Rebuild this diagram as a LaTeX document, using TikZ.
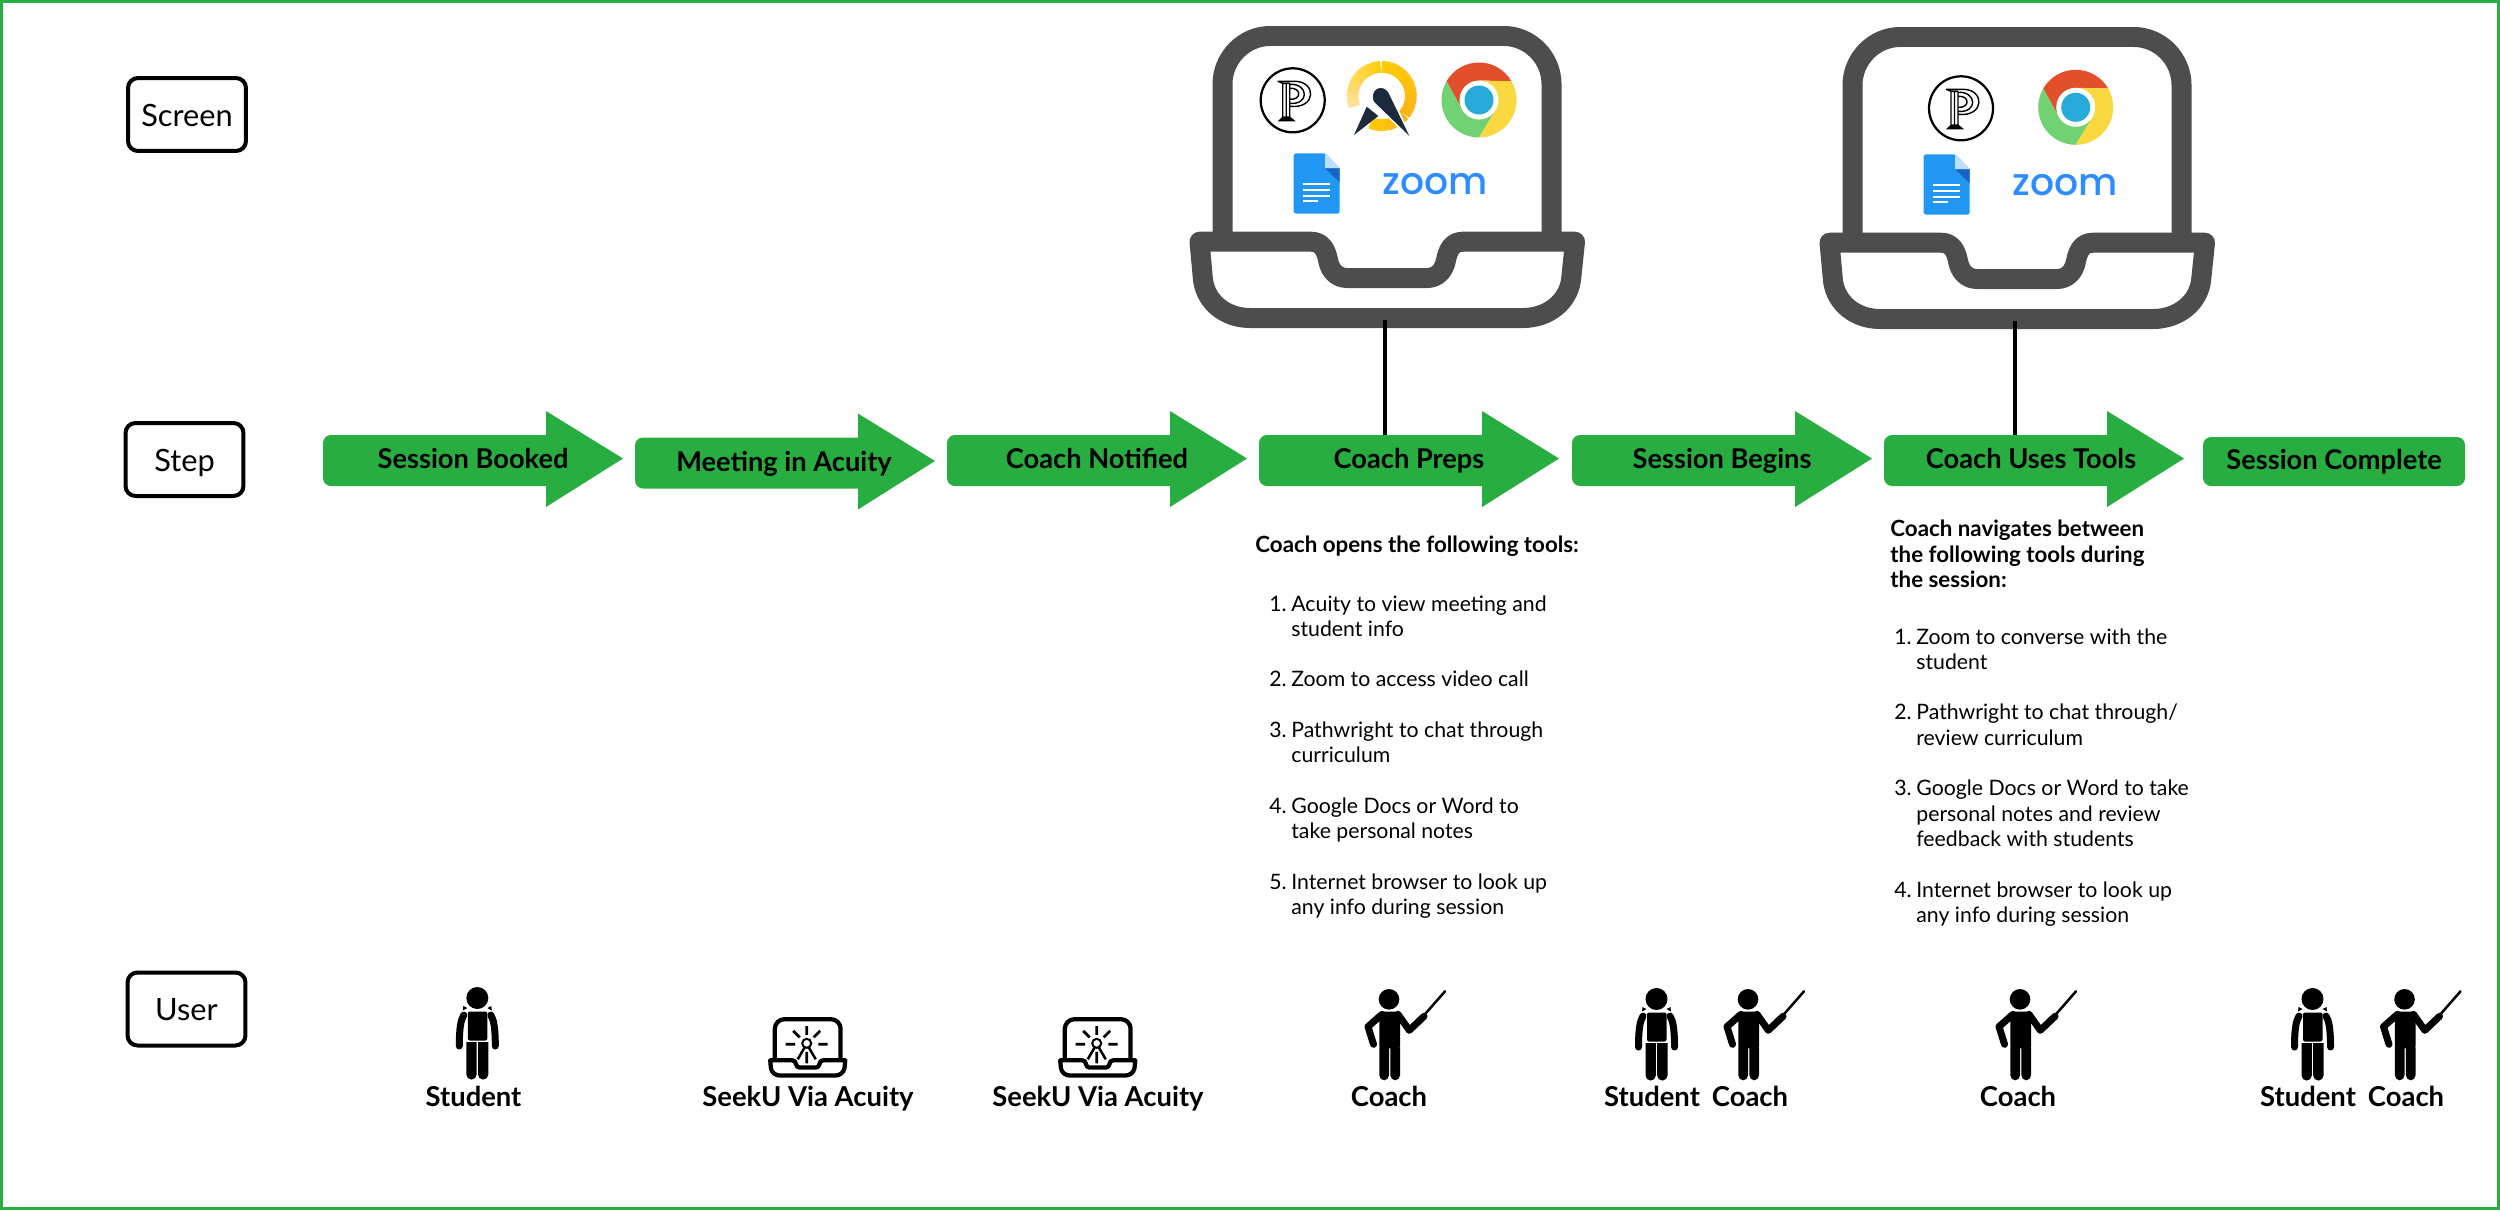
\documentclass[tikz,border=0pt]{standalone}
\usepackage{fontspec}
\setmainfont{Lato}
\newfontfamily\zoomfont{Poppins Medium}
\usetikzlibrary{positioning,calc}
\definecolor{stepgreen}{HTML}{28AE40}
\definecolor{lapgray}{HTML}{4D4D4D}
\definecolor{zoomblue}{HTML}{2D8CFF}
\definecolor{docblue}{HTML}{2196F3}
\definecolor{docfold}{HTML}{BBDEFB}
\definecolor{docdark}{HTML}{1565C0}
\definecolor{chromered}{HTML}{E24F2B}
\definecolor{chromeyel}{HTML}{F9D93F}
\definecolor{chromegrn}{HTML}{71D274}
\definecolor{chromeblu}{HTML}{25AAD9}
\definecolor{acuitydark}{HTML}{1B2A3D}
\definecolor{acuitypale}{HTML}{FDE29A}
\definecolor{acuitygold}{HTML}{FFCC00}
\definecolor{acuityamber}{HTML}{FDB21A}
\newcommand{\toolnum}[1]{\makebox[0.44cm][l]{#1}}
\tikzset{
  rowlabel/.style={draw, rounded corners=0.2cm, line width=0.08cm, minimum width=2.36cm,
                   minimum height=1.46cm, inner sep=0pt, text height=13.6pt, text depth=0pt,
                   font=\fontsize{17.5}{20}\selectfont},
  steptext/.style={anchor=base, inner sep=0pt, font=\fontsize{15.5}{18}\selectfont\bfseries},
  whotext/.style={anchor=base, inner sep=0pt, font=\fontsize{15.6}{18}\selectfont\bfseries},
  finalstep/.style={fill=stepgreen, rounded corners=0.16cm, minimum width=5.24cm,
                    minimum height=0.98cm, inner sep=0pt, text height=9.6pt, text depth=0pt,
                    font=\fontsize{15.5}{18}\selectfont\bfseries},
  toolhead/.style={anchor=north west, inner sep=0pt, align=left,
                   font=\fontsize{12.7}{14.5}\selectfont\bfseries},
  toollist/.style={anchor=north west, inner sep=0pt, align=left,
                   font=\fontsize{12.1}{14.4}\selectfont},
  zoomtext/.style={anchor=base, inner sep=0pt, text=zoomblue, font=\zoomfont\fontsize{21.5}{26}\selectfont},
  link/.style={line width=0.07cm},
  limb/.style={line width=0.14cm, line cap=round, line join=round},
  steparrow/.pic={
    \fill[stepgreen, rounded corners=0.16cm] (100,-25.5) -- (0,-25.5) -- (0,25.5) -- (100,25.5)
      [sharp corners] -- (223,25.5) -- (223,46.5) -- (300,-2) -- (223,-49.5) -- (223,-25.5) -- cycle;
    \coordinate (-top) at (126,-25.5);
  },
  lapframe/.pic={
    \draw[#1] (72.5,242) -- (72.5,84) .. controls (72.5,58) and (94,36) .. (120,36)
      -- (354,36) .. controls (380,36) and (401.5,58) .. (401.5,84) -- (401.5,242);
    \draw[#1, line join=round] (49.5,241.7) -- (161,241.7)
      .. controls (172,241.7) and (176,250) .. (178,260) .. controls (180,271) and (187,278) .. (197,278)
      -- (277,278) .. controls (287,278) and (294,271) .. (296,260) .. controls (298,250) and (302,241.7) .. (313,241.7)
      -- (425,241.7) -- (421,280) .. controls (418,302) and (398,318) .. (373,318)
      -- (100,318) .. controls (75,318) and (56,302) .. (53,280) -- cycle;
    \coordinate (-base) at (235,320);
  },
  pathicon/.pic={
    \draw[line width=0.045cm] (0,0) circle[radius=32];
    \draw[line width=0.028cm, line join=round] (-10,-17) -- (-10,18) (-3,-17) -- (-3,18) (-6.5,-17) -- (-6.5,18)
      (-15,-19) -- (-10,-17) -- (-3,-17) (-15,-19) -- (2,-19)
      (2,-19) .. controls (24,-19) and (24,9) .. (-3,6)
      (-3,-16) .. controls (16,-17) and (17,5) .. (-3,3)
      (-3,-12) .. controls (9,-13) and (9,0) .. (-3,-1);
    \fill (-15,21) -- (-10,16) -- (-3,16) -- (3,21) -- cycle;
  },
  acuityicon/.pic={
    \foreach \ang [evaluate=\ang as \pct using (\ang-159)/1.11] in {159,168,...,261}
      \draw[acuitygold!\pct!acuitypale, line width=0.235cm] (\ang:29.2) arc[start angle=\ang, end angle=\ang+10, radius=29.2];
    \foreach \ang [evaluate=\ang as \pct using (\ang-270)/1.3] in {270,278,...,392}
      \draw[acuityamber!\pct!acuitygold, line width=0.235cm] (\ang:29.2) arc[start angle=\ang, end angle=\ang+9, radius=29.2];
    \foreach \ang [evaluate=\ang as \pct using (\ang-400)/0.71] in {400,408,...,464}
      \draw[acuitygold!\pct!acuityamber, line width=0.235cm] (\ang:29.2) arc[start angle=\ang, end angle=\ang+9, radius=29.2];
    \fill[acuitydark] (-27.7,39) -- (-15,10.7) -- (-3.4,20) -- cycle;
    \fill[acuitydark, draw=white, line width=0.03cm] (30.6,44) -- (7.3,-4) .. controls (2.3,-12) and (-9.7,-10) .. (-9.7,1)
      .. controls (-9.7,4) and (-8.7,6) .. (-7.7,7) -- cycle;
  },
  chromeicon/.pic={
    \fill[chromered] (-150:37.5) arc[start angle=-150, end angle=-30, radius=37.5] -- (0,-19.5) -- (0,0) -- (-16.9,9.75) -- cycle;
    \fill[chromegrn] (-150:37.5) arc[start angle=210, end angle=90, radius=37.5] -- (16.9,9.75) -- (0,0) -- (-16.9,9.75) -- cycle;
    \fill[chromeyel] (-30:37.5) arc[start angle=-30, end angle=90, radius=37.5] -- (16.9,9.75) -- (0,0) -- (0,-19.5) -- cycle;
    \fill[white] (0,0) circle[radius=19.5];
    \fill[chromeblu] (0,0) circle[radius=14.5];
  },
  docsicon/.pic={
    \fill[docblue, rounded corners=0.05cm] (0,0) -- (31.5,0) [sharp corners] -- (46,15) [rounded corners=0.05cm] -- (46,60.4) -- (0,60.4) -- cycle;
    \fill[docfold] (31.5,0) -- (46,15) -- (31.5,15) -- cycle;
    \fill[docdark] (31.5,15) -- (46,15) -- (46,29) -- cycle;
    \draw[white, line width=0.04cm] (9.7,30.7) -- (36.3,30.7) (9.7,36.7) -- (36.3,36.7) (9.7,42.3) -- (36.3,42.3) (9.7,47.7) -- (24.7,47.7);
  },
  studentfig/.pic={
    \fill (0,0) circle[radius=11];
    \fill (-10,10) -- (-14,8) -- (-14.5,12.5) -- cycle;
    \fill (10,10) -- (14,8) -- (14.5,12.5) -- cycle;
    \fill[rounded corners=0.04cm] (-9.5,13.5) -- (10,13.5) -- (10,42.5) -- (-9.5,42.5) -- cycle;
    \fill (-11,44) -- (-0.7,44) [rounded corners=0.1cm] -- (-0.7,81.5) -- (-11,81.5) [sharp corners] -- cycle;
    \fill (0.7,44) -- (11,44) [rounded corners=0.1cm] -- (11,81.5) -- (0.7,81.5) [sharp corners] -- cycle;
    \draw[limb] (-13.5,17) .. controls (-16.5,22) and (-18,30) .. (-18,48);
    \draw[limb] (13.5,17) .. controls (16.5,22) and (18,30) .. (18,48);
  },
  coachfig/.pic={
    \fill (0,0) circle[radius=10.3];
    \fill[rounded corners=0.04cm] (-9.7,12.3) -- (11,12.3) -- (11,49) -- (-9.7,49) -- cycle;
    \fill (-9.7,48) -- (0,48) [rounded corners=0.1cm] -- (0,81) -- (-9.7,81) [sharp corners] -- cycle;
    \fill (1.4,48) -- (11,48) [rounded corners=0.1cm] -- (11,81) -- (1.4,81) [sharp corners] -- cycle;
    \draw[limb] (9,15) -- (20.3,31) -- (35,17);
    \draw[limb] (-7,15) -- (-21,27.3) -- (-15.5,45);
    \draw[line width=0.05cm, line cap=round] (35,16) -- (56,-8);
  },
  seekuicon/.pic={
    \pic[scale=0.2] at (-46.4,-32.3) {lapframe={line width=0.085cm}};
    \draw[line width=0.055cm] (0,-18.3) -- (0,-9.5) (11.7,0) -- (21,0) (-21,0) -- (-11.7,0) (0,7.5) -- (0,19)
      (7,-7) -- (13.5,-13.5) (-7,-7) -- (-13.5,-13.5);
    \draw[line width=0.04cm] (0,-1) circle[radius=4.5];
    \draw[line width=0.05cm] (-2,3) -- (-9,15) (2,3) -- (9,15);
  }
}
\begin{document}
\begin{tikzpicture}[x=0.02cm, y=-0.02cm]
\useasboundingbox (0,0) rectangle (2500,1210);
\draw[stepgreen, line width=0.07cm] (1.75,1.75) rectangle (2498.25,1208.25);
% row labels
\node[rowlabel] (screenlabel) at (187,114.5) {Screen};
\node[rowlabel] (steplabel) at (184.5,459.5) {Step};
\node[rowlabel] (userlabel) at (186.5,1009) {User};
% laptops
\pic (lapa) at (1150,0) {lapframe={lapgray, line width=0.4cm}};
\pic (lapb) at (1780,1) {lapframe={lapgray, line width=0.4cm}};
\pic (patha) at (1292.7,100.3) {pathicon};
\pic (acuitya) at (1381.7,96) {acuityicon};
\pic (chromea) at (1479,100) {chromeicon};
\pic (docsa) at (1293.7,153.3) {docsicon};
\node[zoomtext] (zooma) at (1435.5,194) {zoom};
\pic (pathb) at (1961,108.3) {pathicon};
\pic (chromeb) at (2075.7,107.3) {chromeicon};
\pic (docsb) at (1923.7,154.3) {docsicon};
\node[zoomtext] (zoomb) at (2065.5,195) {zoom};
% step arrows
\pic (booked) at (323,460.5) {steparrow};
\pic (meeting) at (635,463) {steparrow};
\pic (notified) at (947,460.5) {steparrow};
\pic (preps) at (1259,460.5) {steparrow};
\pic (begins) at (1572,460.5) {steparrow};
\pic (tools) at (1884,460.5) {steparrow};
\node[finalstep] (complete) at (2334,461.5) {Session Complete};
\node[steptext] (bookedtext) at (473,468) {Session Booked};
\node[steptext] (meetingtext) at (784,471) {Meeting in Acuity};
\node[steptext] (notifiedtext) at (1097,468) {Coach Notified};
\node[steptext] (prepstext) at (1409,468) {Coach Preps};
\node[steptext] (beginstext) at (1722,468) {Session Begins};
\node[steptext] (toolstext) at (2031,468) {Coach Uses Tools};
\draw[link] (lapa-base) -- (lapa-base |- preps-top);
\draw[link] (lapb-base) -- (lapb-base |- tools-top);
% tool notes
\node[toolhead] (prepshead) at (1255,536) {Coach opens the following tools:};
\node[toollist] (prepslist) at (1269,595) {\toolnum{1.}Acuity to view meeting and\\
  \toolnum{}student info\\[14.4pt]
  \toolnum{2.}Zoom to access video call\\[14.4pt]
  \toolnum{3.}Pathwright to chat through\\
  \toolnum{}curriculum\\[14.4pt]
  \toolnum{4.}Google Docs or Word to\\
  \toolnum{}take personal notes\\[14.4pt]
  \toolnum{5.}Internet browser to look up\\
  \toolnum{}any info during session};
\node[toolhead] (toolshead) at (1890,520) {Coach navigates between\\the following tools during\\the session:};
\node[toollist] (toolslist) at (1894,628) {\toolnum{1.}Zoom to converse with the\\
  \toolnum{}student\\[14.4pt]
  \toolnum{2.}Pathwright to chat through/\\
  \toolnum{}review curriculum\\[14.4pt]
  \toolnum{3.}Google Docs or Word to take\\
  \toolnum{}personal notes and review\\
  \toolnum{}feedback with students\\[14.4pt]
  \toolnum{4.}Internet browser to look up\\
  \toolnum{}any info during session};
% users
\pic (stua) at (477.3,998) {studentfig};
\node[whotext] (stuatext) at (473.5,1106.5) {Student};
\pic (seekua) at (806.7,1044.3) {seekuicon};
\node[whotext] (seekuatext) at (808,1106.5) {SeekU Via Acuity};
\pic (seekub) at (1096.7,1044.3) {seekuicon};
\node[whotext] (seekubtext) at (1098,1106.5) {SeekU Via Acuity};
\pic (coaa) at (1389,999.3) {coachfig};
\node[whotext] (coaatext) at (1389,1106.5) {Coach};
\pic (stub) at (1656.5,999) {studentfig};
\node[whotext] (stubtext) at (1652,1106.5) {Student};
\pic (coab) at (1748,999.3) {coachfig};
\node[whotext] (coabtext) at (1750,1106.5) {Coach};
\pic (coac) at (2020,999.3) {coachfig};
\node[whotext] (coactext) at (2018,1106.5) {Coach};
\pic (stuc) at (2312.5,999) {studentfig};
\node[whotext] (stuctext) at (2308,1106.5) {Student};
\pic (coad) at (2404.5,999.3) {coachfig};
\node[whotext] (coadtext) at (2406,1106.5) {Coach};
\end{tikzpicture}
\end{document}
